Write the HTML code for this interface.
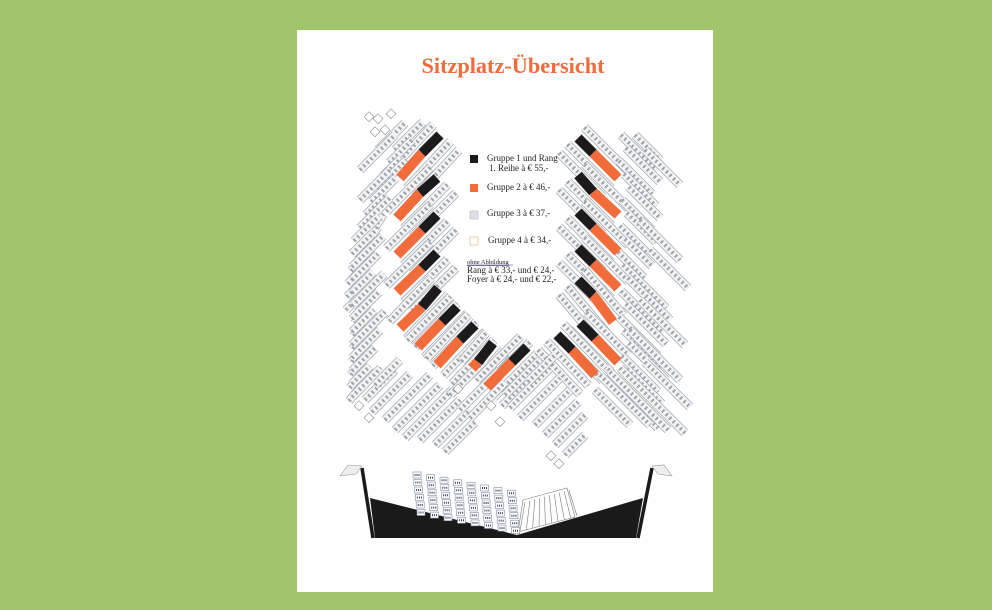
<!DOCTYPE html>
<html><head><meta charset="utf-8"><style>
html,body{margin:0;padding:0;background:#a2c46a;width:992px;height:610px;overflow:hidden}
svg{position:absolute;left:0;top:0}
</style></head><body>
<svg id="s" width="992" height="610" viewBox="0 0 992 610" xmlns="http://www.w3.org/2000/svg">
<rect x="0" y="0" width="992" height="610" fill="#a2c46a"/>
<rect x="297" y="30" width="416" height="562" fill="#ffffff"/>
<g id="seats"></g>
<g id="bars"></g>
<text x="513" y="73" text-anchor="middle" font-family="Liberation Serif, serif" font-weight="bold" font-size="22" fill="#f26b3a" textLength="183" lengthAdjust="spacingAndGlyphs">Sitzplatz-Übersicht</text>
<g font-family="Liberation Serif, serif" font-size="9" fill="#222">
<rect x="470" y="155" width="8" height="8" fill="#1a1a1a"/>
<text x="487" y="161">Gruppe 1 und Rang</text>
<text x="489" y="171">1. Reihe   à  € 55,-</text>
<rect x="470" y="184" width="8" height="8" fill="#f26b3a"/>
<text x="487" y="190">Gruppe 2  à   € 46,-</text>
<rect x="470" y="211" width="8" height="8" fill="#dde2ea" stroke="#bbb" stroke-width="0.6"/>
<text x="487" y="216">Gruppe 3  à   € 37,-</text>
<rect x="470" y="237" width="8" height="8" fill="#fff" stroke="#d9b070" stroke-width="0.6"/>
<text x="488" y="243">Gruppe 4  à   € 34,-</text>
<text x="467" y="264" font-size="6.5" text-decoration="underline">ohne Abbildung</text>
<line x1="467" y1="265" x2="513" y2="265" stroke="#33a" stroke-width="0.5"/>
<text x="467" y="273">Rang  à  € 33,- und € 24,-</text>
<text x="467" y="282">Foyer à  € 24,- und € 22,-</text>
</g>
<g id="stage">
<polygon points="370,498 517,535 643,498 636,538 375,538" fill="#1a1a1a"/>
<line x1="362" y1="468" x2="373" y2="538" stroke="#1a1a1a" stroke-width="3.5"/>
<line x1="652" y1="468" x2="638" y2="538" stroke="#1a1a1a" stroke-width="3.5"/>
<path d="M340,476 L348,465 L362,466 L356,474 Z" fill="#eee" stroke="#999" stroke-width="0.6"/>
<path d="M672,476 L664,465 L652,466 L658,474 Z" fill="#eee" stroke="#999" stroke-width="0.6"/>
<polygon points="523,500 567,488 575,517 518,532" fill="#fff" stroke="#777" stroke-width="0.6"/>
<g id="hatch"></g>
<g id="cols"></g>
</g>
</svg>
<script>
var NS="http://www.w3.org/2000/svg";
function el(p,t,a){var e=document.createElementNS(NS,t);for(var k in a)e.setAttribute(k,a[k]);document.getElementById(p).appendChild(e);return e;}
function line(p,x1,y1,x2,y2,w,c,extra){var a={x1:x1,y1:y1,x2:x2,y2:y2,"stroke-width":w,stroke:c};if(extra)for(var k in extra)a[k]=extra[k];return el(p,"line",a);}
function strip(x1,y1,x2,y2){
 line("seats",x1,y1,x2,y2,9,"#a3a8b2");
 line("seats",x1,y1,x2,y2,7.5,"#f3f4f6");
 line("seats",x1,y1,x2,y2,4,"#6a6f7a",{"stroke-dasharray":"2 3","opacity":"0.6"});
}
function bar(bx,by,sx,sy,tx,ty){
 line("bars",bx,by,sx,sy,10,"#f26b3a");
 line("bars",sx,sy,tx,ty,10,"#1c1a1a");
}
var L=[[400,178,422,153,440,135],[397,218,420,193,437,178],[397,255,422,230,437,215],[397,292,422,268,437,253],
[400,328,422,307,438,288],[418,347,442,322,457,307],[437,365,460,340,475,325],[472,368,478,362,493,343],[487,387,512,362,527,347]];
var R=[[578,138,593,153,618,178],[578,175,593,192,618,215],[578,212,593,227,618,252],[578,248,593,263,618,288],
[578,280,593,295,613,322],[580,323,595,338,618,362],[557,335,572,350,595,375]];
L.forEach(function(b){
 [-1,1,2].forEach(function(k){var o=8.5*k;strip(b[0]+o-2,b[1]+o+2,b[4]+o+2,b[5]+o-2);});});
R.forEach(function(b){[-1,1,2].forEach(function(k){var o=8.5*k;strip(b[0]-o-2,b[1]+o-2,b[4]-o+2,b[5]+o+2);});});
for(var y=150;y<=400;y+=13){var x0= y<250? 395-(y-150)*0.45 : 352;
 var len = 18+((y*7)%16);
 strip(x0,y,x0+len,y-len);
 if(y>200&&y<380) strip(x0-6+((y*3)%10),y+30,x0+12,y+12);
}
[[375,115],[388,110],[382,126],[372,128],[366,113]].forEach(function(p){el("seats","rect",{x:p[0],y:p[1],width:7,height:7,fill:"#fff",stroke:"#888","stroke-width":"0.6",transform:"rotate(45 "+(p[0]+3)+" "+(p[1]+3)+")"});});
strip(378,150,405,123);strip(360,170,395,135);strip(360,200,390,170);
var C=[[365,400,395,370],[372,412,410,374],[385,420,430,375],[395,430,440,385],[405,438,452,390],[420,440,460,400],[435,445,470,410],[445,452,475,422],
[460,410,500,370],[470,418,505,382],[450,395,485,360],[505,395,540,360],[510,408,550,368],[520,418,560,378],[535,425,570,390],[545,435,578,402],[555,445,585,415],[565,455,585,435],
[500,372,530,342],[528,382,555,355],[375,385,400,360]];
C.forEach(function(c){strip(c[0],c[1],c[2],c[3]);});
for(var y=135;y<=400;y+=13){var x0=618+((y*5)%12);var len=26+((y*11)%18);
 strip(x0,y,x0+len,y+len);}
[[635,135,660,160],[645,150,680,185],[640,220,680,260],[650,250,688,288],[640,300,685,345],[630,330,680,380],
[600,375,650,425],[610,372,668,430],[620,368,685,433],[645,362,690,407],[595,390,630,425]].forEach(function(c){strip(c[0],c[1],c[2],c[3]);});
[[356,402],[366,414],[455,385],[488,402],[497,418],[548,452],[556,460]].forEach(function(p){el("seats","rect",{x:p[0],y:p[1],width:7,height:7,fill:"#fff",stroke:"#888","stroke-width":"0.6",transform:"rotate(45 "+(p[0]+3)+" "+(p[1]+3)+")"});});
L.forEach(function(b){bar.apply(null,b);});
R.forEach(function(b){bar(b[4],b[5],b[2],b[3],b[0],b[1]);});
for(var i=0;i<10;i++){var t=i/9;line("hatch",523+44*t+2,500-12*t+2,518+57*t+2,532-15*t-1,0.6,"#777");}
for(var j=0;j<8;j++){var cx=413+j*13.5,cy=472+j*2.6;
 for(var r=0;r<6;r++){el("cols","rect",{x:cx+r*0.8,y:cy+r*7.5,width:8,height:6,fill:"#fff",stroke:"#7a8aa8","stroke-width":"0.6"});
 line("cols",cx+r*0.8+1.5,cy+r*7.5+3,cx+r*0.8+6.5,cy+r*7.5+3,2,"#445",{"stroke-dasharray":"1 1"});}}
</script>
</body></html>
